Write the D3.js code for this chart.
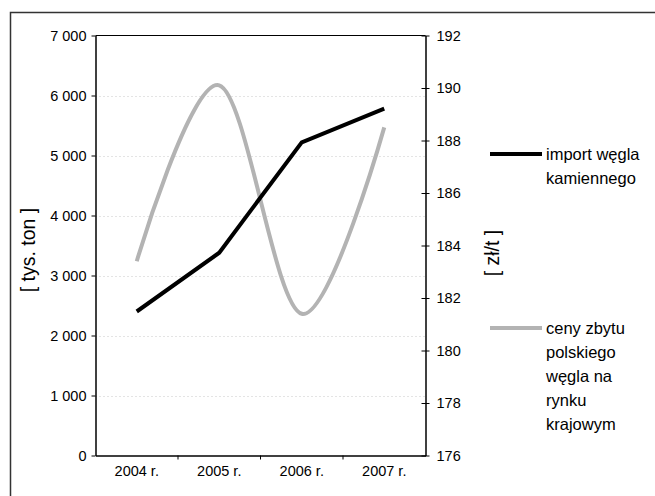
<!DOCTYPE html>
<html><head><meta charset="utf-8">
<script src="https://cdn.jsdelivr.net/npm/d3@7"></script>
<style>body{margin:0;background:#fff}svg{display:block}text{font-family:"Liberation Sans",Arial,sans-serif;fill:#000}</style>
</head><body><svg id="c" width="655" height="496"></svg>
<script>
const years = ["2004 r.", "2005 r.", "2006 r.", "2007 r."];
const importValues = [2400, 3380, 5220, 5780];
const priceValues = [183.4, 190.1, 181.4, 188.5];
const leftTicks = [0, 1000, 2000, 3000, 4000, 5000, 6000, 7000];
const rightTicks = [176, 178, 180, 182, 184, 186, 188, 190, 192];
const seriesNames = [["import węgla", "kamiennego"], ["ceny zbytu", "polskiego", "węgla na", "rynku", "krajowym"]];

const svg = d3.select("#c");
const L = 95.5, R = 425.5, T = 35.5, B = 455.5;

svg.append("rect").attr("x", 10.5).attr("y", 12.5).attr("width", 660).attr("height", 500)
  .attr("fill", "none").attr("stroke", "#333").attr("stroke-width", 1.5);

const x = d3.scaleBand().domain(years).range([L, R]);
const yL = d3.scaleLinear().domain([0, 7000]).range([B, T]);
const yR = d3.scaleLinear().domain([176, 192]).range([B, T]);
const fmt = d => d3.format(",")(d).replace(/,/g, " ");

// gridlines
svg.append("g").selectAll("line").data(leftTicks.filter(d => d > 0 && d < 7000)).join("line")
  .attr("x1", L).attr("x2", R).attr("y1", d => Math.round(yL(d)) + 0.5).attr("y2", d => Math.round(yL(d)) + 0.5)
  .attr("stroke", "#c8c8c8").attr("stroke-dasharray", "1,3");
svg.append("line").attr("x1", L).attr("x2", R).attr("y1", T).attr("y2", T).attr("stroke", "#000");

const axL = svg.append("g").attr("transform", `translate(${L},0)`)
  .call(d3.axisLeft(yL).tickValues(leftTicks).tickFormat(fmt).tickSize(4).tickSizeOuter(0));
const axR = svg.append("g").attr("transform", `translate(${R},0)`)
  .call(d3.axisRight(yR).tickValues(rightTicks).tickSize(0).tickSizeOuter(0));
axR.selectAll(".tick line").attr("x1", -4).attr("x2", 4);
const axB = svg.append("g").attr("transform", `translate(0,${B})`)
  .call(d3.axisBottom(x).tickSize(0).tickSizeOuter(0));
axB.selectAll(".tick line").remove();
svg.append("g").selectAll("line").data(years.slice(1)).join("line")
  .attr("x1", d => x(d)).attr("x2", d => x(d)).attr("y1", B).attr("y2", B + 4).attr("stroke", "#000");

[axL, axR, axB].forEach(a => {
  a.attr("font-size", null).attr("font-family", null);
  a.select(".domain").attr("stroke", "#000").attr("stroke-width", 1.5);
  a.selectAll(".tick line").attr("stroke", "#000");
  a.selectAll("text").style("font-size", "14.5px").style("font-family", "Liberation Sans, Arial, sans-serif").attr("fill", "#000");
});
axL.selectAll("text").attr("x", -9);
axR.selectAll("text").attr("x", 11);
axB.selectAll("text").attr("y", 10);

const cx = d => x(d) + x.bandwidth() / 2;
svg.append("path").datum(priceValues)
  .attr("d", d3.line().x((d, i) => cx(years[i])).y(d => yR(d)).curve(d3.curveCatmullRom.alpha(0)))
  .attr("fill", "none").attr("stroke", "#b3b3b3").attr("stroke-width", 4);
svg.append("path").datum(importValues)
  .attr("d", d3.line().x((d, i) => cx(years[i])).y(d => yL(d)))
  .attr("fill", "none").attr("stroke", "#000").attr("stroke-width", 4);

svg.append("text").attr("transform", "translate(35,250) rotate(-90)").attr("text-anchor", "middle")
  .style("font-size", "19.5px").text("[ tys. ton ]");
svg.append("text").attr("transform", "translate(499,253) rotate(-90)").attr("text-anchor", "middle")
  .style("font-size", "19.5px").text("[ zł/t ]");

const leg = [{y: 154, color: "#000", lines: seriesNames[0]}, {y: 328, color: "#b3b3b3", lines: seriesNames[1]}];
leg.forEach(l => {
  svg.append("line").attr("x1", 490).attr("x2", 542).attr("y1", l.y).attr("y2", l.y)
    .attr("stroke", l.color).attr("stroke-width", 4);
  l.lines.forEach((t, i) => svg.append("text").attr("x", 546).attr("y", l.y + 6 + i * 24)
    .style("font-size", "16.5px").text(t));
});
</script></body></html>
